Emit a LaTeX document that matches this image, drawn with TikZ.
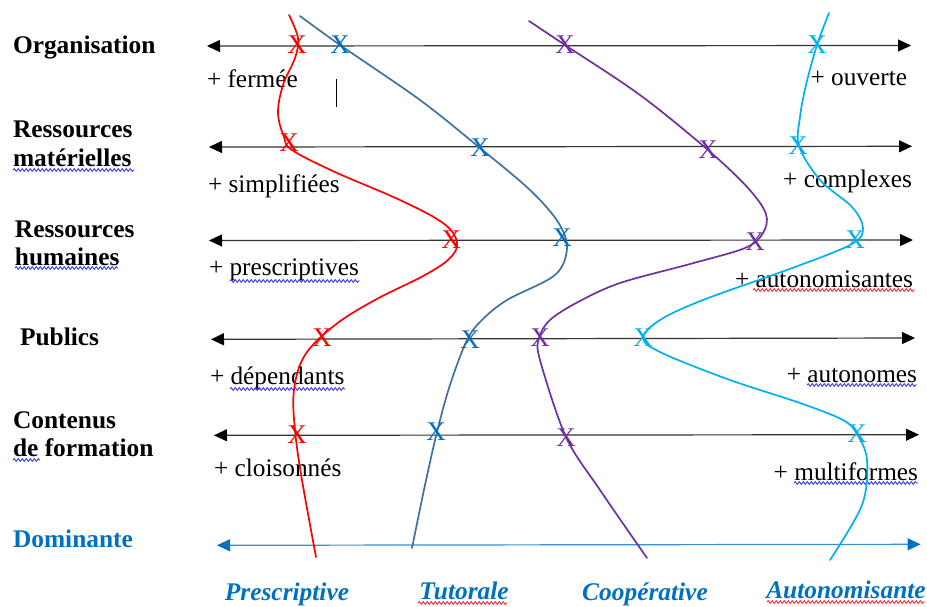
\documentclass[tikz,border=0pt]{standalone}
\usepackage{fontspec}
\setmainfont{Liberation Serif}
\usetikzlibrary{arrows.meta,decorations.pathmorphing}
\definecolor{cRed}{HTML}{FF0000}
\definecolor{cTut}{HTML}{41719C}
\definecolor{cTutX}{HTML}{0070C0}
\definecolor{cPur}{HTML}{7030A0}
\definecolor{cCya}{HTML}{00B0F0}
\definecolor{cDom}{HTML}{0070C0}
\definecolor{cDomLine}{HTML}{3C8DD8}
\definecolor{axisgray}{HTML}{333333}
\definecolor{sqBlue}{HTML}{3A3AE8}
\definecolor{sqRed}{HTML}{E8303A}
\begin{document}
\begin{tikzpicture}[x=1pt,y=-1pt,
  every node/.style={inner sep=0pt,outer sep=0pt,font=\fontsize{25.3}{29}\selectfont},
  axisline/.style={axisgray,line width=1.2pt,
    {Triangle[length=13pt,width=12pt,color=black]}-{Triangle[length=13pt,width=12pt,color=black]}},
  domline/.style={cDomLine,line width=1.2pt,
    {Triangle[length=13pt,width=12pt,color=cDom]}-{Triangle[length=13pt,width=12pt,color=cDom]}},
  rowtitle/.style={anchor=base west,font=\fontsize{25.4}{29}\selectfont\bfseries},
  poleL/.style={anchor=base west},
  poleR/.style={anchor=base east},
  xmark/.style={font=\fontsize{27}{29}\selectfont},
  curve/.style={line width=1.7pt,line cap=round},
  colname/.style={anchor=base,text=cDom,font=\fontsize{25.4}{29}\selectfont\bfseries\itshape},
  squig/.style={#1,line width=0.9pt,decorate,decoration={snake,amplitude=1.4pt,segment length=4pt}}
]
\useasboundingbox (0,0) rectangle (927,606);

% axes
\coordinate (a1l) at (207,46);   \coordinate (a1r) at (911,45.5);
\coordinate (a2l) at (209,147);  \coordinate (a2r) at (912,146.3);
\coordinate (a3l) at (209,240.5);\coordinate (a3r) at (913,240);
\coordinate (a4l) at (211,339.3);\coordinate (a4r) at (915,338);
\coordinate (a5l) at (214,435.3);\coordinate (a5r) at (919,434.7);
\coordinate (a6l) at (217,545.3);\coordinate (a6r) at (920.5,544.3);
\draw[axisline] (a1l) -- (a1r);
\draw[axisline] (a2l) -- (a2r);
\draw[axisline] (a3l) -- (a3r);
\draw[axisline] (a4l) -- (a4r);
\draw[axisline] (a5l) -- (a5r);
\draw[domline] (a6l) -- (a6r);

% row titles
\node[rowtitle] (t1) at (13,53) {Organisation};
\node[rowtitle] (t2a) at (13,137) {Ressources};
\node[rowtitle] (t2b) at (13,166) {matérielles};
\node[rowtitle] (t3a) at (15,237) {Ressources};
\node[rowtitle] (t3b) at (15,265) {humaines};
\node[rowtitle] (t4) at (20,345) {Publics};
\node[rowtitle] (t5a) at (13,428) {Contenus};
\node[rowtitle] (t5b) at (13,456) {de formation};
\node[rowtitle,text=cDom] (t6) at (13,547) {Dominante};

% pole labels
\node[poleL] (l1) at (207,87) {+ fermée};
\node[poleR] (r1) at (907,85) {+ ouverte};
\node[poleL] (l2) at (208,192) {+ simplifiées};
\node[poleR] (r2) at (912,187) {+ complexes};
\node[poleL] (l3) at (209,275) {+ prescriptives};
\node[poleR] (r3) at (913,287) {+ autonomisantes};
\node[poleL] (l4) at (210,384) {+ dépendants};
\node[poleR] (r4) at (917,382) {+ autonomes};
\node[poleL] (l5) at (214,476) {+ cloisonnés};
\node[poleR] (r5) at (918,480) {+ multiformes};

% spell-check underlines
\draw[squig=sqBlue] (13,170) -- (134,170);
\draw[squig=sqBlue] (15,268) -- (118,268);
\draw[squig=sqBlue] (230,281) -- (360,281);
\draw[squig=sqBlue] (230,389) -- (345,389);
\draw[squig=sqBlue] (13,460) -- (40,460);
\draw[squig=sqRed] (753,290) -- (915,290);
\draw[squig=sqBlue] (807,385) -- (917,385);
\draw[squig=sqBlue] (794,483) -- (918,483);
\draw[squig=sqRed] (418,603) -- (507,603);
\draw[squig=sqRed] (767,602) -- (925,602);

% text cursor
\draw[black,line width=1pt] (336,79) -- (336,107);

% curves
\draw[cRed,curve] plot[smooth,tension=0.6] coordinates {
 (289,15) (298,38) (295,58) (283,85) (278,113) (284,137) (292,150)
 (335,172) (400,200) (443,223) (457,242) (450,258) (425,275) (375,300)
 (335,325) (305,355) (294,390) (295,430) (302,480) (316,557)};
\draw[cTut,curve] plot[smooth,tension=0.55] coordinates {
 (300,16) (340,45) (420,100) (480,148) (530,190) (558,222) (567,248)
 (555,275) (507,300) (482,320) (467,340) (450,385) (437,432) (425,485) (412,548)};
\draw[cPur,curve] plot[smooth,tension=0.55] coordinates {
 (529,21) (565,45) (640,95) (708,150) (748,188) (766,214) (763,233)
 (745,248) (690,264) (620,283) (578,302) (550,320) (539,338) (540,360)
 (566,437) (600,490) (647,558)};
\draw[cCya,curve] plot[smooth,tension=0.55] coordinates {
 (829,13) (817,45) (806,85) (800,117) (799,146) (820,180) (852,207)
 (863,228) (852,244) (795,267) (703,300) (660,320) (643,338) (662,353)
 (730,380) (800,403) (843,420) (857,434) (867,460) (862,505) (830,560)};

% X marks
\node[xmark,text=cRed] (x11) at (297,45) {X};
\node[xmark,text=cTutX] (x12) at (340,45) {X};
\node[xmark,text=cPur] (x13) at (565,45) {X};
\node[xmark,text=cCya] (x14) at (817,45) {X};
\node[xmark,text=cRed] (x21) at (289,143) {X};
\node[xmark,text=cTutX] (x22) at (480,148) {X};
\node[xmark,text=cPur] (x23) at (708,150) {X};
\node[xmark,text=cCya] (x24) at (798,146) {X};
\node[xmark,text=cRed] (x31) at (451,240) {X};
\node[xmark,text=cTutX] (x32) at (562,238) {X};
\node[xmark,text=cPur] (x33) at (755,242) {X};
\node[xmark,text=cCya] (x34) at (855,240) {X};
\node[xmark,text=cRed] (x41) at (322,338) {X};
\node[xmark,text=cTutX] (x42) at (470,340) {X};
\node[xmark,text=cPur] (x43) at (540,338) {X};
\node[xmark,text=cCya] (x44) at (643,338) {X};
\node[xmark,text=cRed] (x51) at (297,435) {X};
\node[xmark,text=cTutX] (x52) at (436,432) {X};
\node[xmark,text=cPur] (x53) at (566,438) {X};
\node[xmark,text=cCya] (x54) at (857,434) {X};

% column names
\node[colname] (c1) at (287,600) {Prescriptive};
\node[colname] (c2) at (464,599) {Tutorale};
\node[colname] (c3) at (645,600) {Coopérative};
\node[colname] (c4) at (846,598) {Autonomisante};
\end{tikzpicture}
\end{document}
